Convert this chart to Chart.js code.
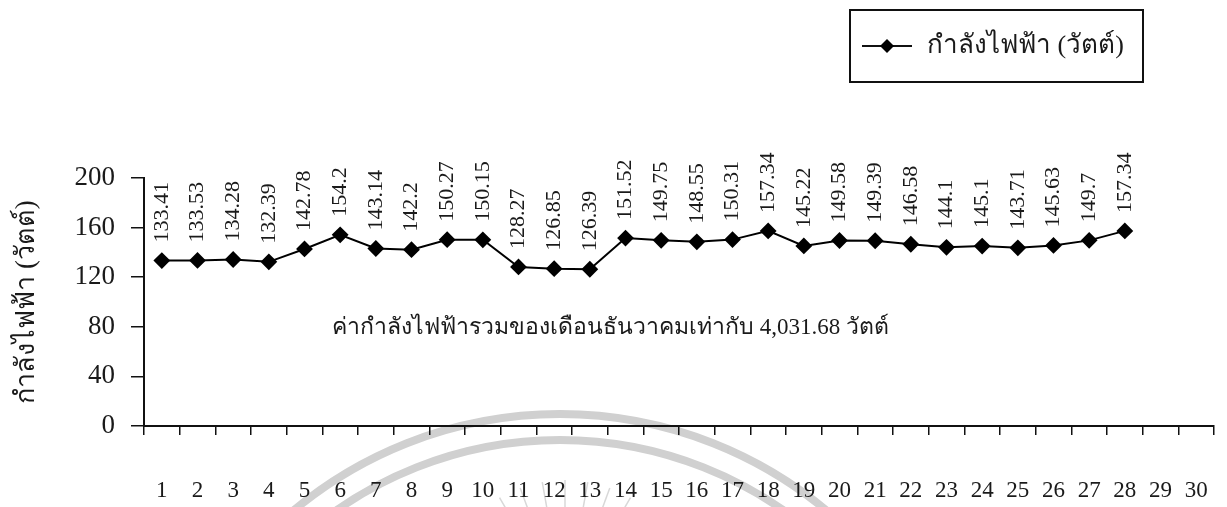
<!DOCTYPE html>
<html>
<head>
<meta charset="utf-8">
<script src="https://cdn.jsdelivr.net/npm/chart.js@4/dist/chart.umd.min.js"></script>
<style>
  html, body { margin: 0; padding: 0; background: #ffffff; }
  #wrap { width: 1227px; height: 507px; }
</style>
</head>
<body>
<div id="wrap"><canvas id="c" width="1227" height="507"></canvas></div>
<script>
// ---- data ----
const dayLabels = ['1','2','3','4','5','6','7','8','9','10','11','12','13','14','15',
                   '16','17','18','19','20','21','22','23','24','25','26','27','28','29','30'];
const powerWatts = [133.41, 133.53, 134.28, 132.39, 142.78, 154.2, 143.14, 142.2, 150.27, 150.15,
                    128.27, 126.85, 126.39, 151.52, 149.75, 148.55, 150.31, 157.34, 145.22, 149.58,
                    149.39, 146.58, 144.1, 145.1, 143.71, 145.63, 149.7, 157.34];
const seriesName = 'กำลังไฟฟ้า (วัตต์)';
const yAxisTitle = 'กำลังไฟฟ้า (วัตต์)';
const noteText = 'ค่ากำลังไฟฟ้ารวมของเดือนธันวาคมเท่ากับ 4,031.68 วัตต์';
const yMin = 0, yMax = 200, yStep = 40;

const SERIF = '"Liberation Serif", "DejaVu Serif", serif';
const INK = '#1a1a1a';

// watermark (scanned page background)
const watermarkPlugin = {
  id: 'watermark',
  beforeDraw(chart) {
    const ctx = chart.ctx;
    ctx.save();
    ctx.strokeStyle = '#d0d0d0';
    ctx.lineWidth = 8;
    ctx.beginPath(); ctx.arc(560, 830, 416, Math.PI, 2 * Math.PI); ctx.stroke();
    ctx.beginPath(); ctx.arc(560, 830, 390, Math.PI, 2 * Math.PI); ctx.stroke();
    ctx.lineWidth = 1.5;
    ctx.strokeStyle = '#d8d8d8';
    const cx = 565, cy = 610;
    for (let k = 0; k < 11; k++) {
      const a = Math.PI * (1.22 + k * 0.056);
      ctx.beginPath();
      ctx.moveTo(cx + Math.cos(a) * 95, cy + Math.sin(a) * 95);
      ctx.lineTo(cx + Math.cos(a) * 130, cy + Math.sin(a) * 130);
      ctx.stroke();
    }
    ctx.restore();
  }
};

// vertical value labels above points
const valueLabelPlugin = {
  id: 'valueLabels',
  afterDatasetsDraw(chart) {
    const ctx = chart.ctx;
    const meta = chart.getDatasetMeta(0);
    const data = chart.data.datasets[0].data;
    ctx.save();
    ctx.font = '22px ' + SERIF;
    ctx.fillStyle = INK;
    ctx.textAlign = 'left';
    ctx.textBaseline = 'middle';
    meta.data.forEach((pt, i) => {
      ctx.save();
      ctx.translate(pt.x, pt.y - 18);
      ctx.rotate(-Math.PI / 2);
      ctx.fillText(String(data[i]), 0, 0);
      ctx.restore();
    });
    ctx.restore();
  }
};

// note text + boxed legend
const extrasPlugin = {
  id: 'extras',
  afterDraw(chart) {
    const ctx = chart.ctx;
    const ca = chart.chartArea;
    const ys = chart.scales.y;
    ctx.save();
    // note
    ctx.font = '23px ' + SERIF;
    ctx.fillStyle = INK;
    ctx.textAlign = 'center';
    ctx.textBaseline = 'middle';
    ctx.fillText(noteText, ca.left + (ca.right - ca.left) * 0.436, ys.getPixelForValue(79));
    // legend box
    const bx = 850, by = 10, bw = 293, bh = 72;
    ctx.strokeStyle = '#111';
    ctx.lineWidth = 2;
    ctx.strokeRect(bx, by, bw, bh);
    const ly = by + bh / 2;
    ctx.lineWidth = 2;
    ctx.beginPath(); ctx.moveTo(bx + 12, ly); ctx.lineTo(bx + 62, ly); ctx.stroke();
    ctx.fillStyle = '#000';
    ctx.beginPath();
    ctx.moveTo(bx + 37, ly - 7); ctx.lineTo(bx + 44, ly); ctx.lineTo(bx + 37, ly + 7); ctx.lineTo(bx + 30, ly);
    ctx.closePath(); ctx.fill();
    ctx.font = '26px ' + SERIF;
    ctx.fillStyle = INK;
    ctx.textAlign = 'left';
    ctx.fillText(seriesName, bx + 77, ly);
    ctx.restore();
  }
};

new Chart(document.getElementById('c'), {
  type: 'line',
  data: {
    labels: dayLabels,
    datasets: [{
      label: seriesName,
      data: powerWatts,
      borderColor: '#000',
      backgroundColor: '#000',
      borderWidth: 2,
      pointStyle: 'rectRot',
      pointRadius: 7,
      pointHoverRadius: 7,
      pointBackgroundColor: '#000',
      pointBorderColor: '#000',
      tension: 0,
      fill: false
    }]
  },
  options: {
    responsive: false,
    devicePixelRatio: 1,
    animation: false,
    events: [],
    layout: { padding: { left: 0, right: 13, top: 178, bottom: 0 } },
    plugins: { legend: { display: false }, tooltip: { enabled: false } },
    scales: {
      x: {
        type: 'category',
        offset: true,
        afterFit(scale) { scale.height = 81; scale.paddingLeft = 0; scale.paddingRight = 0; },
        grid: { display: true, offset: true, drawOnChartArea: false, drawTicks: true, tickLength: 9, color: '#111', lineWidth: 1.5 },
        border: { display: true, color: '#111', width: 2 },
        ticks: { color: INK, font: { family: SERIF, size: 23 }, padding: 42, maxRotation: 0, autoSkip: false }
      },
      y: {
        min: yMin, max: yMax,
        afterFit(scale) { scale.width = 144; },
        grid: { display: true, drawOnChartArea: false, drawTicks: true, tickLength: 13, color: '#111', lineWidth: 1.5 },
        border: { display: true, color: '#111', width: 2 },
        ticks: { stepSize: yStep, color: INK, font: { family: SERIF, size: 27 }, padding: 16 },
        title: { display: true, text: yAxisTitle, color: INK, font: { family: SERIF, size: 27 }, padding: { top: 11, bottom: 10 } }
      }
    }
  },
  plugins: [watermarkPlugin, valueLabelPlugin, extrasPlugin]
});
</script>
</body>
</html>
